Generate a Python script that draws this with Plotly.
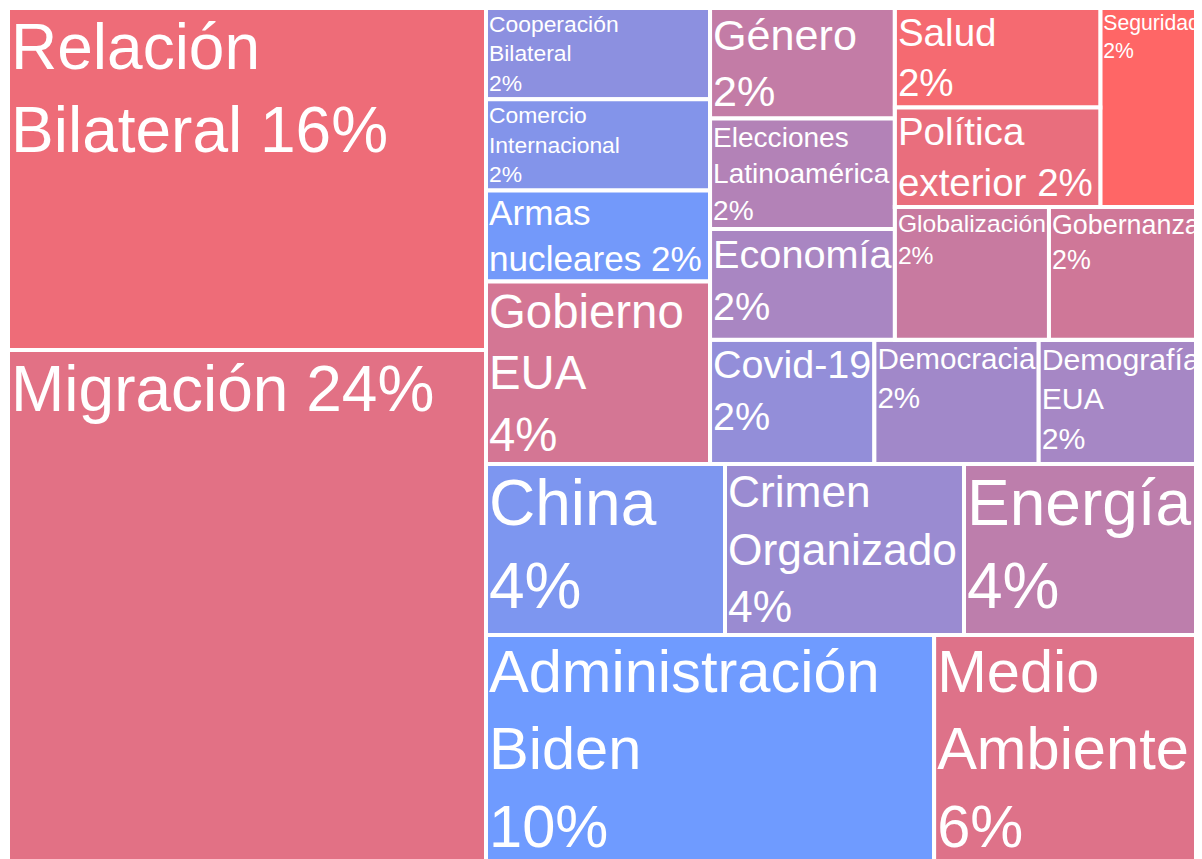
import plotly.graph_objects as go

# ---- Data: topics, mention counts, colour score -------------------------
topics = [
    "Relación Bilateral", "Migración",
    "Cooperación Bilateral", "Comercio Internacional", "Armas nucleares", "Gobierno EUA",
    "Género", "Elecciones Latinoamérica", "Economía",
    "Salud", "Política exterior", "Seguridad",
    "Globalización", "Gobernanza",
    "Covid-19", "Democracia", "Demografía EUA",
    "China", "Crimen Organizado", "Energía",
    "Administración Biden", "Medio Ambiente",
]
counts = [8, 12,
          1, 1, 1, 2,
          1, 1, 1,
          1, 1, 1,
          1, 1,
          1, 1, 1,
          2, 2, 2,
          5, 3]
# colour score (0 = blue end, 1 = red end)
tone = [0.88, 0.80,
        0.20, 0.14, 0.03, 0.70,
        0.58, 0.47, 0.40,
        0.93, 0.85, 1.00,
        0.62, 0.67,
        0.25, 0.35, 0.38,
        0.10, 0.30, 0.54,
        0.00, 0.77]
# wrapped display names (percentage appended by the template)
display = [
    "Relación<br>Bilateral ", "Migración ",
    "Cooperación<br>Bilateral<br>", "Comercio<br>Internacional<br>", "Armas<br>nucleares ", "Gobierno<br>EUA<br>",
    "Género<br>", "Elecciones<br>Latinoamérica<br>", "Economía<br>",
    "Salud<br>", "Política<br>exterior ", "Seguridad<br>",
    "Globalización<br>", "Gobernanza<br>",
    "Covid-19<br>", "Democracia<br>", "Demografía<br>EUA<br>",
    "China<br>", "Crimen<br>Organizado<br>", "Energía<br>",
    "Administración<br>Biden<br>", "Medio<br>Ambiente<br>",
]
# grouping of tiles into layout blocks
topic_group = ["gA", "gA",
               "gG10", "gG10", "gG10", "gG10",
               "gGen6", "gGen6", "gGen6",
               "gSP4", "gSP4", "gU6",
               "gGlob4", "gGlob4",
               "gCov6", "gCov6", "gCov6",
               "gC12", "gC12", "gC12",
               "gB16", "gB16"]
# blocks (in placement order) and each block's parent block
groups = ["gA", "gB", "gU32", "gC12", "gB16", "gG10", "gR22", "gU16", "gCov6",
          "gGen6", "gR10", "gU6", "gGlob4", "gSP4"]
group_parent = ["", "", "gB", "gB", "gB", "gU32", "gU32", "gR22", "gR22",
                "gU16", "gU16", "gR10", "gR10", "gU6"]

# ---- Build hierarchy (blocks first, then topics) -------------------------
ids = list(groups) + list(topics)
labels = [""] * len(groups) + list(topics)
parents = list(group_parent) + list(topic_group)
values = [0] * len(groups) + list(counts)
colors = [0.5] * len(groups) + list(tone)
texts = [""] * len(groups) + list(display)
templates = [""] * len(groups) + ["%{text}%{percentRoot:.0%}"] * len(topics)

fig = go.Figure(go.Treemap(
    ids=ids,
    labels=labels,
    parents=parents,
    values=values,
    branchvalues="remainder",
    text=texts,
    texttemplate=templates,
    textposition="top left",
    textfont=dict(family="Arial, Liberation Sans, sans-serif", size=64, color="white"),
    marker=dict(
        colors=colors,
        colorscale=[[0, "#6F9BFF"], [1, "#FF6666"]],
        cmin=0, cmax=1,
        line=dict(color="white", width=4),
        pad=dict(t=0, l=0, r=0, b=0),
        depthfade=False,
    ),
    root=dict(color="white"),
    tiling=dict(packing="slice-dice", pad=0),
    pathbar=dict(visible=False),
    sort=False,
    hoverinfo="label+value+percent root",
))

fig.update_layout(
    width=1195, height=855,
    margin=dict(t=0, l=0, r=0, b=0),
    paper_bgcolor="white",
)

fig.write_html("out.html")
